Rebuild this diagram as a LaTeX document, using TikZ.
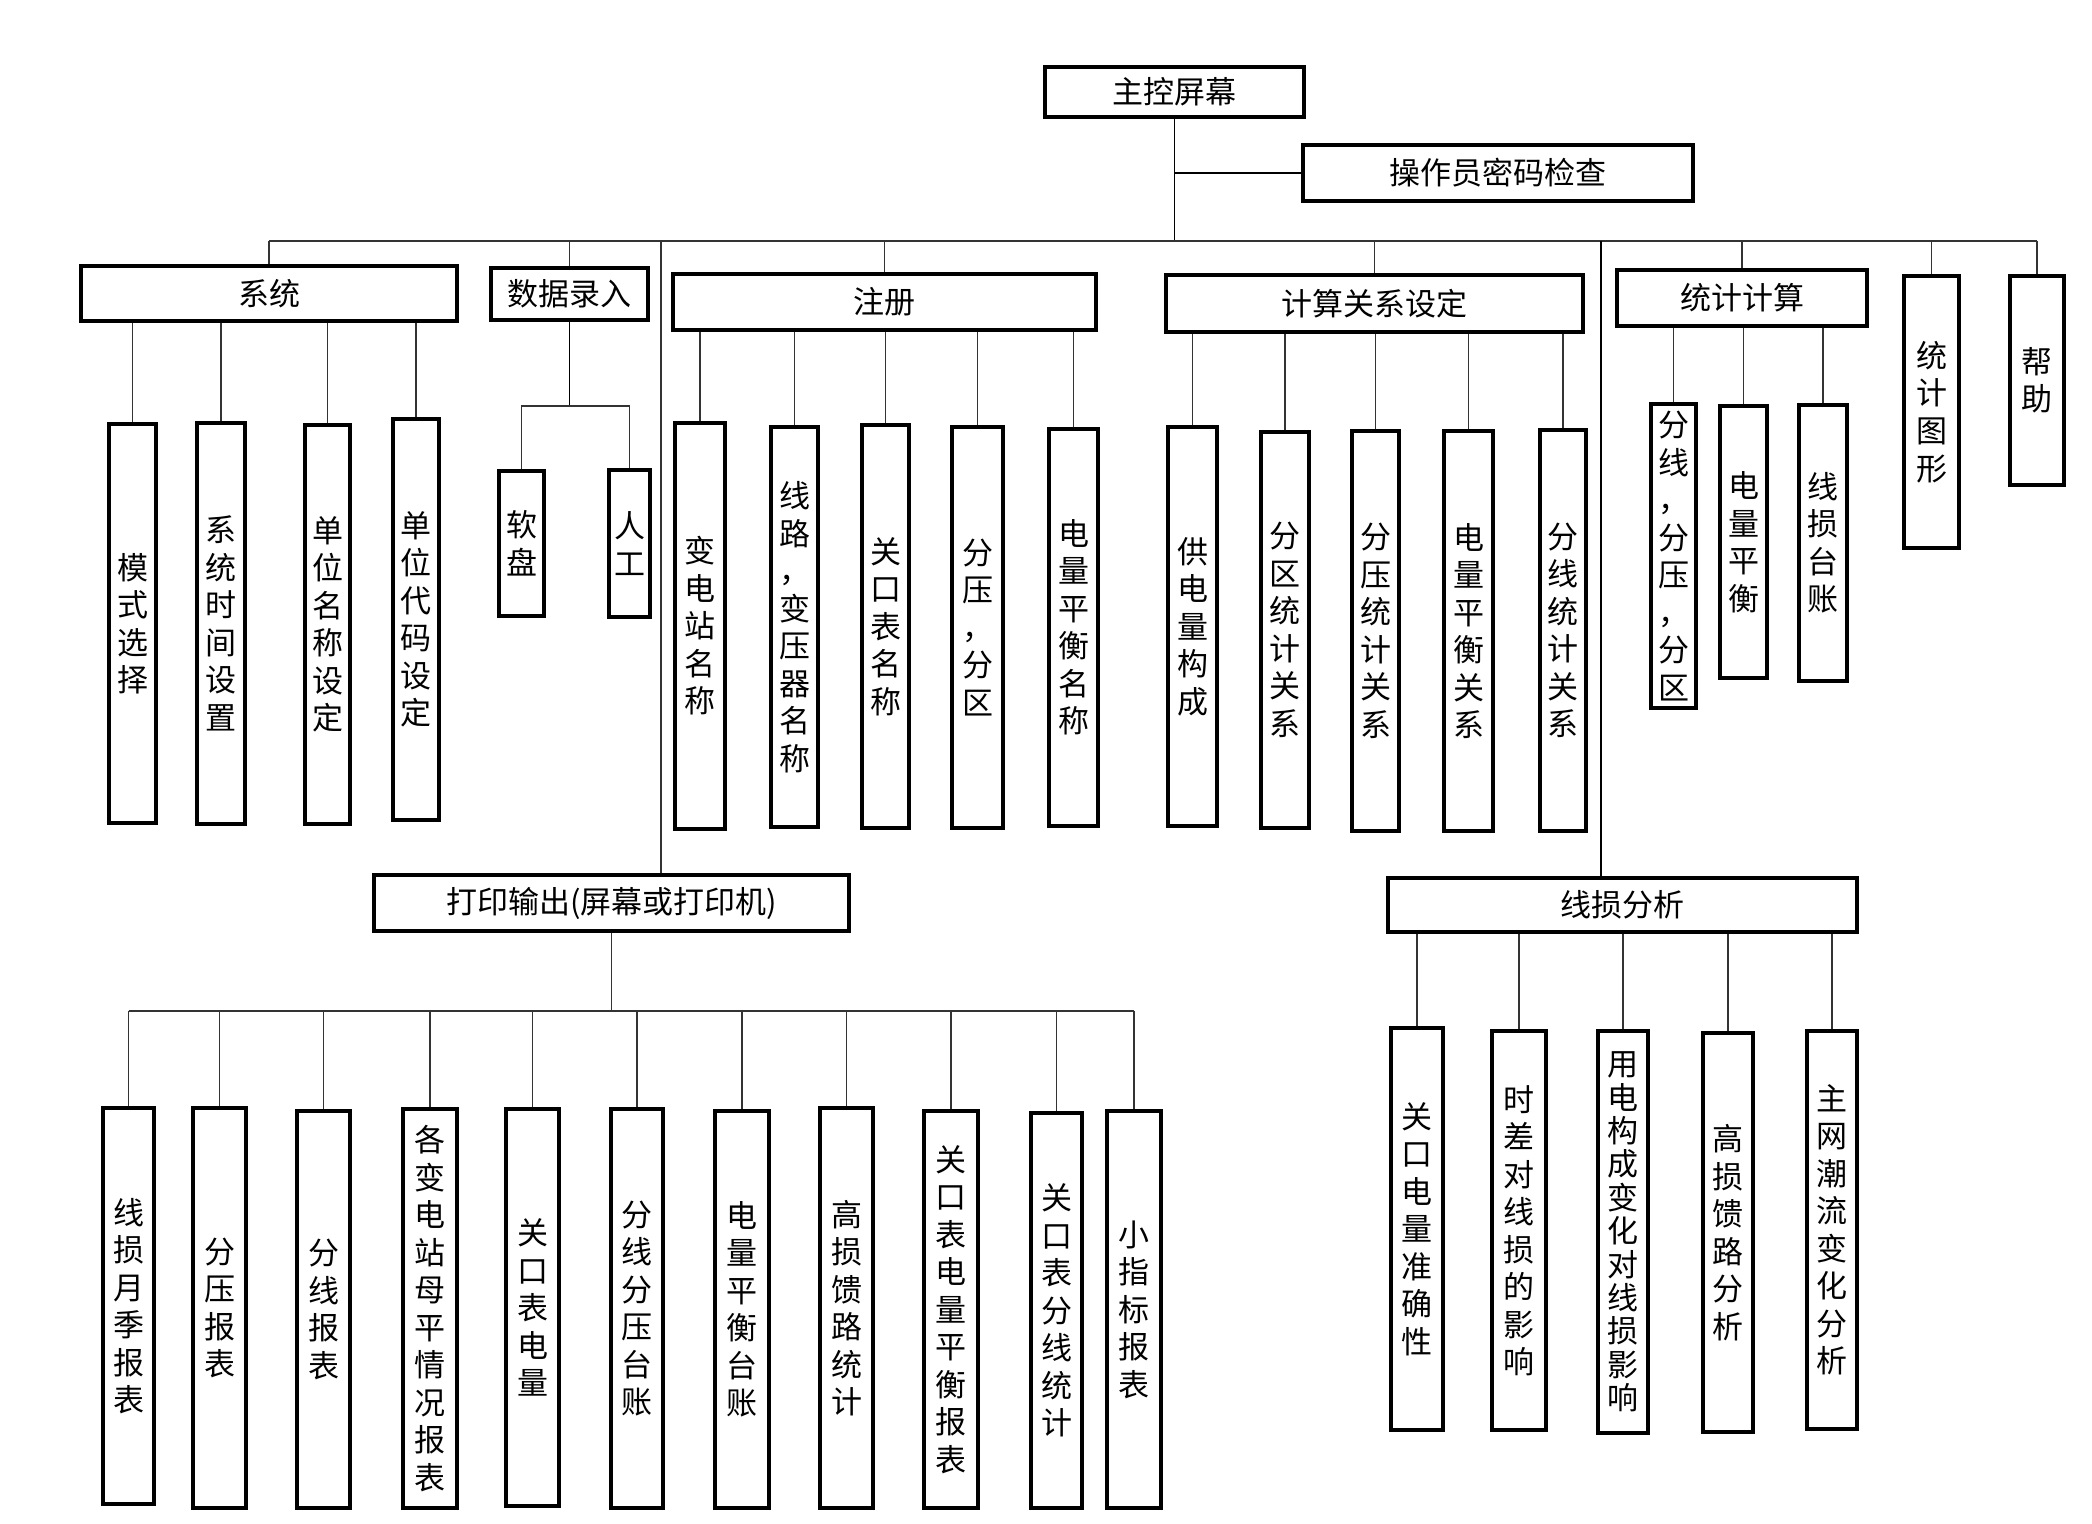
\documentclass[tikz,border=0pt]{standalone}
\usepackage{fontspec}
\setmainfont{Noto Sans CJK SC}
\newcommand{\mybox}[7][]{\node[bx,minimum width={(#5-#3)*0.5pt},minimum height={(#6-#4)*0.5pt},#1] (#2) at ({(#3+#5)/2},{(#4+#6)/2}) {#7};}
\begin{document}
\begin{tikzpicture}[x=0.5pt,y=-0.5pt,
  bx/.style={draw, line width=1.6pt, inner sep=0pt, align=center, font=\fontsize{15.5}{18.75}\selectfont},
  ln/.style={line width=0.8pt},
  lt/.style={line width=0.55pt, black!80}]
\useasboundingbox[fill=white] (0,0) rectangle (2092,1524);

% top level
\mybox{main}{1045}{67}{1304}{117}{主控屏幕}
\mybox{op}{1303}{145}{1693}{201}{操作员密码检查}
\mybox{sys}{81}{266}{457}{321}{系统}
\mybox{dl}{491}{268}{648}{320}{数据录入}
\mybox{reg}{673}{274}{1096}{330}{注册}
\mybox{calc}{1166}{275}{1583}{332}{计算关系设定}
\mybox{stat}{1617}{270}{1867}{326}{统计计算}
\mybox{sg}{1904}{276}{1959}{548}{统\\计\\图\\形}
\mybox{help}{2010}{276}{2064}{485}{帮\\助}
\mybox{print}{374}{875}{849}{931}{打印输出(屏幕或打印机)}
\mybox{xs}{1388}{878}{1857}{932}{线损分析}

% system children
\mybox{s1}{109}{424}{156}{823}{模\\式\\选\\择}
\mybox{s2}{197}{423}{245}{824}{系\\统\\时\\间\\设\\置}
\mybox{s3}{305}{425}{350}{824}{单\\位\\名\\称\\设\\定}
\mybox{s4}{393}{419}{439}{820}{单\\位\\代\\码\\设\\定}
% data entry children
\mybox{d1}{499}{471}{544}{616}{软\\盘}
\mybox{d2}{609}{470}{650}{617}{人\\工}
% register children
\mybox{r1}{675}{423}{725}{829}{变\\电\\站\\名\\称}
\mybox{r2}{771}{427}{818}{827}{线\\路\\，\\变\\压\\器\\名\\称}
\mybox{r3}{862}{425}{909}{828}{关\\口\\表\\名\\称}
\mybox{r4}{952}{427}{1003}{828}{分\\压\\，\\分\\区}
\mybox{r5}{1049}{429}{1098}{826}{电\\量\\平\\衡\\名\\称}
% calc children
\mybox{k1}{1168}{427}{1217}{826}{供\\电\\量\\构\\成}
\mybox{k2}{1261}{432}{1309}{828}{分\\区\\统\\计\\关\\系}
\mybox{k3}{1352}{431}{1399}{831}{分\\压\\统\\计\\关\\系}
\mybox{k4}{1444}{431}{1493}{831}{电\\量\\平\\衡\\关\\系}
\mybox{k5}{1540}{430}{1586}{831}{分\\线\\统\\计\\关\\系}
% stat children
\mybox{t1}{1651}{404}{1696}{708}{分\\线\\，\\分\\压\\，\\分\\区}
\mybox{t2}{1720}{406}{1767}{678}{电\\量\\平\\衡}
\mybox{t3}{1799}{405}{1847}{681}{线\\损\\台\\账}
% print children
\mybox{p1}{103}{1108}{154}{1504}{线\\损\\月\\季\\报\\表}
\mybox{p2}{193}{1108}{246}{1508}{分\\压\\报\\表}
\mybox{p3}{297}{1111}{350}{1508}{分\\线\\报\\表}
\mybox{p4}{403}{1109}{457}{1508}{各\\变\\电\\站\\母\\平\\情\\况\\报\\表}
\mybox{p5}{506}{1109}{559}{1506}{关\\口\\表\\电\\量}
\mybox{p6}{611}{1109}{663}{1508}{分\\线\\分\\压\\台\\账}
\mybox{p7}{715}{1111}{769}{1508}{电\\量\\平\\衡\\台\\账}
\mybox{p8}{820}{1108}{873}{1508}{高\\损\\馈\\路\\统\\计}
\mybox{p9}{924}{1111}{978}{1508}{关\\口\\表\\电\\量\\平\\衡\\报\\表}
\mybox{p10}{1031}{1113}{1082}{1508}{关\\口\\表\\分\\线\\统\\计}
\mybox{p11}{1107}{1111}{1161}{1508}{小\\指\\标\\报\\表}
% line loss children
\mybox{x1}{1391}{1028}{1443}{1430}{关\\口\\电\\量\\准\\确\\性}
\mybox{x2}{1492}{1031}{1546}{1430}{时\\差\\对\\线\\损\\的\\影\\响}
\mybox[font=\fontsize{15.5}{16.7}\selectfont]{x3}{1598}{1031}{1648}{1433}{用\\电\\构\\成\\变\\化\\对\\线\\损\\影\\响}
\mybox{x4}{1703}{1033}{1753}{1432}{高\\损\\馈\\路\\分\\析}
\mybox{x5}{1807}{1031}{1857}{1429}{主\\网\\潮\\流\\变\\化\\分\\析}

% connectors: main
\coordinate (bus) at (0,241);
\coordinate (pdrop) at (661,241);
\coordinate (xdrop) at (1601,241);
\draw[ln] (main.south) -- (main.south |- bus);
\draw[ln] (main.south |- op.west) -- (op.west);
\draw[lt] (sys.north |- bus) -- (help.north |- bus);
\foreach \n in {sys,dl,reg,calc,stat,sg,help}
  \draw[lt] (\n.north |- bus) -- (\n.north);
\draw[lt] (pdrop) -- (pdrop |- print.north);
\draw[ln] (xdrop) -- (xdrop |- xs.north);

% system
\foreach \n in {s1,s2,s3,s4}
  \draw[lt] (\n.north) -- (\n.north |- sys.south);
% data entry
\coordinate (fork) at (571,406);
\draw[ln] (dl.south) -- (dl.south |- fork);
\draw[lt] (d1.north) |- (dl.south |- fork) -| (d2.north);
% register
\foreach \n in {r1,r2,r3,r4,r5}
  \draw[lt] (\n.north) -- (\n.north |- reg.south);
% calc
\foreach \n in {k1,k2,k3,k4,k5}
  \draw[lt] (\n.north) -- (\n.north |- calc.south);
% stat
\foreach \n in {t1,t2,t3}
  \draw[lt] (\n.north) -- (\n.north |- stat.south);
% print
\coordinate (pbus) at (0,1011);
\draw[lt] (print.south) -- (print.south |- pbus);
\draw[lt] (p1.north |- pbus) -- (p11.north |- pbus);
\foreach \n in {p1,p2,p3,p4,p5,p6,p7,p8,p9,p10,p11}
  \draw[lt] (\n.north |- pbus) -- (\n.north);
% line loss
\foreach \n in {x1,x2,x3,x4,x5}
  \draw[lt] (\n.north) -- (\n.north |- xs.south);
\end{tikzpicture}
\end{document}
